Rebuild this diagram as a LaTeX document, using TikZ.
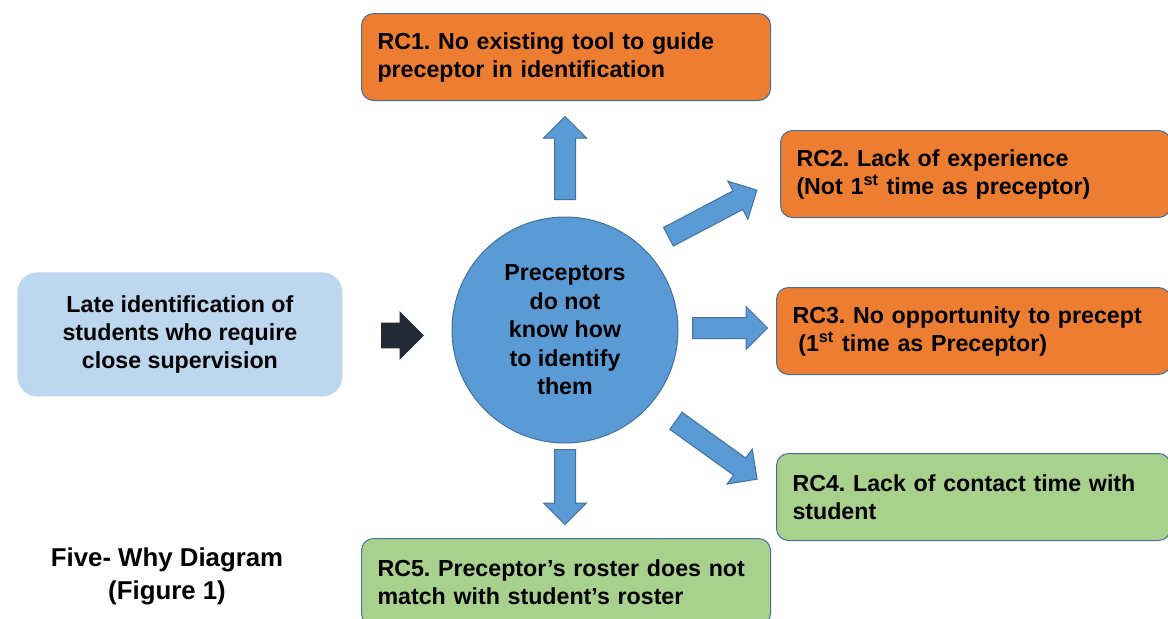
\documentclass[tikz,border=0pt]{standalone}
\usepackage{fontspec}
\setmainfont{Liberation Sans}
\usetikzlibrary{shapes.arrows}
\definecolor{probblue}{HTML}{BDD7EE}
\definecolor{rcorange}{HTML}{ED7D31}
\definecolor{rcgreen}{HTML}{A9D18E}
\definecolor{whyblue}{HTML}{5B9BD5}
\definecolor{edgeblue}{HTML}{41719C}
\definecolor{darkarrow}{HTML}{222A35}
\frenchspacing
\tikzset{
  rc/.style={rectangle, draw=edgeblue, line width=0.5pt, rounded corners=6pt,
             anchor=north west, align=left, inner xsep=8pt, inner ysep=0pt,
             minimum height=43.5pt, font=\bfseries\fontsize{11.6}{14}\selectfont},
  rcor/.style={rc, fill=rcorange},
  rcgr/.style={rc, fill=rcgreen},
  prob/.style={rectangle, fill=probblue, rounded corners=10pt, anchor=north west,
               align=center, minimum width=162.5pt, minimum height=62pt,
               font=\bfseries\fontsize{11.6}{14}\selectfont},
  why/.style={circle, draw=edgeblue, line width=0.5pt, fill=whyblue, minimum size=113pt,
              inner sep=0pt, align=center, font=\bfseries\fontsize{11.6}{14.25}\selectfont},
  blockarrow/.style={single arrow, draw=edgeblue, line width=0.5pt, fill=whyblue,
                     inner xsep=0pt, inner ysep=5pt, single arrow head extend=5.5pt, anchor=tail},
  inarrow/.style={single arrow, draw=darkarrow, fill=darkarrow, inner xsep=0pt, anchor=tail,
                  inner ysep=6pt, single arrow head extend=5.5pt, minimum height=21pt},
  figcap/.style={align=center, font=\bfseries\fontsize{12.9}{16.5}\selectfont}
}
\begin{document}
\begin{tikzpicture}[x=0.5pt,y=-0.5pt]
\clip (0,0) rectangle (1168,618);
\fill[white] (0,0) rectangle (1168,618);

% problem and main cause
\node[prob] (late) at (17,272) {Late identification of\\ students who require\\ close supervision};
\node[why] (why) at (565,330) {Preceptors\\ do not\\ know how\\ to identify\\ them};

% root causes
\node[rcor,text width=188.5pt] (rc1) at (361,13) {RC1. No existing tool to guide\\ preceptor in identification};
\node[rcor,text width=179pt] (rc2) at (780,130) {RC2. Lack of experience\\ (Not 1\textsuperscript{st} time as preceptor)};
\node[rcor,text width=181pt] (rc3) at (776,287) {RC3. No opportunity to precept\\ \hspace*{0.25em}(1\textsuperscript{st} time as Preceptor)};
\node[rcgr,text width=181pt] (rc4) at (776,453) {RC4. Lack of contact time with\\ student};
\node[rcgr,text width=188.5pt] (rc5) at (361,538) {RC5. Preceptor's roster does not\\ match with student's roster};

% block arrows (placed by their tails)
\node[inarrow] (arin) at (381,335.5) {};
\node[blockarrow,minimum height=41.5pt,rotate=90] (ar1) at (565,200) {};
\node[blockarrow,minimum height=50pt,rotate=27.8] (ar2) at (668,237) {};
\node[blockarrow,minimum height=37.5pt] (ar3) at (692,328) {};
\node[blockarrow,minimum height=50pt,rotate=-35.7] (ar4) at (675.5,420.5) {};
\node[blockarrow,minimum height=37.5pt,rotate=-90] (ar5) at (565,449) {};

\node[figcap] (title) at (167,576) {Five- Why Diagram\\ (Figure 1)};
\end{tikzpicture}
\end{document}
